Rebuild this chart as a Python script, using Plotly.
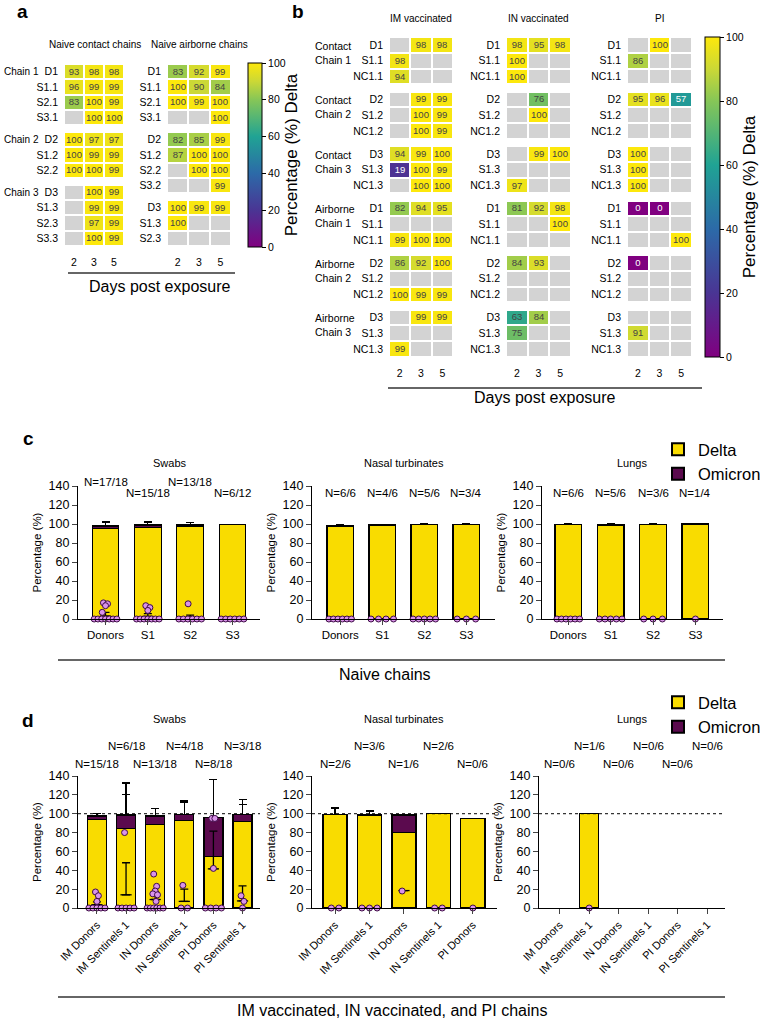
import plotly.graph_objects as go

W, H = 765, 1020
N = None
FONT = "Liberation Sans, Arial, sans-serif"
GRAY = "#d3d3d3"
YELLOW = "#f9dc00"
PURPLE = "#5b0a4e"
DOT = "#d993ea"

days = ["2", "3", "5"]

# ---------------- panel a: naive chains, % Delta ----------------
contact_rows = [["D1", "S1.1", "S2.1", "S3.1"], ["D2", "S1.2", "S2.2"], ["D3", "S1.3", "S2.3", "S3.3"]]
contact_vals = [
    [[93, 98, 98], [96, 99, 99], [83, 100, 99], [N, 100, 100]],
    [[100, 97, 97], [100, 99, 99], [100, 100, 99]],
    [[N, 100, 99], [N, 99, 99], [N, 97, 99], [N, 100, 99]],
]
contact_groups = ["Chain 1", "Chain 2", "Chain 3"]

airborne_rows = [["D1", "S1.1", "S2.1", "S3.1"], ["D2", "S1.2", "S2.2", "S3.2"], ["D3", "S1.3", "S2.3"]]
airborne_vals = [
    [[83, 92, 99], [100, 90, 84], [100, 99, 100], [N, N, 100]],
    [[82, 85, 99], [87, 100, 100], [N, 100, 100], [N, N, 99]],
    [[100, 99, 99], [100, N, N], [N, N, N]],
]

# ---------------- panel b: vaccinated / PI chains ----------------
b_groups = ["Contact<br>Chain 1", "Contact<br>Chain 2", "Contact<br>Chain 3",
            "Airborne<br>Chain 1", "Airborne<br>Chain 2", "Airborne<br>Chain 3"]
b_rows = [["D1", "S1.1", "NC1.1"], ["D2", "S1.2", "NC1.2"], ["D3", "S1.3", "NC1.3"],
          ["D1", "S1.1", "NC1.1"], ["D2", "S1.2", "NC1.2"], ["D3", "S1.3", "NC1.3"]]
E = [N, N, N]
im_vals = [
    [[N, 98, 98], [98, N, N], [94, N, N]],
    [[N, 99, 99], [N, 100, 99], [N, 100, 99]],
    [[94, 99, 100], [19, 100, 99], [N, 100, 100]],
    [[82, 94, 95], E, [99, 100, 100]],
    [[86, 92, 100], E, [100, 99, 99]],
    [[N, 99, 99], E, [99, N, N]],
]
in_vals = [
    [[98, 95, 98], [100, N, N], [100, N, N]],
    [[N, 76, N], [N, 100, N], E],
    [[N, 99, 100], E, [97, N, N]],
    [[81, 92, 98], [N, N, 100], E],
    [[84, 93, N], E, E],
    [[63, 84, N], [75, N, N], E],
]
pi_vals = [
    [[N, 100, N], [86, N, N], E],
    [[95, 96, 57], E, E],
    [[100, N, N], [100, N, N], [100, N, N]],
    [[0, 0, N], E, [N, N, 100]],
    [[0, N, N], E, E],
    [E, [91, N, N], E],
]

# ---------------- panel c: naive chains, bars ----------------
c_cats = ["Donors", "S1", "S2", "S3"]
c_swab_delta = [95, 96.3, 97.6, 99.5]
c_swab_delta_sd = [3, 2.7, 1.5, 0.3]
c_swab_omi = [3, 2.7, 1.5, N]
c_swab_omi_sd = [4, 3, 2.5, N]
c_swab_pts = [[0] * 7 + [17, 16, 14, 7], [0] * 7 + [14, 12, 9], [0] * 6 + [16], [0] * 6]
c_swab_n = ["N=17/18", "N=15/18", "N=13/18", "N=6/12"]

c_nasal_delta = [98, 99, 99.5, 99.5]
c_nasal_delta_sd = [1.2, 0.8, 0.4, 0.4]
c_nasal_pts = [[0] * 6, [0] * 4, [0] * 5, [0] * 3]
c_nasal_n = ["N=6/6", "N=4/6", "N=5/6", "N=3/4"]

c_lung_delta = [99.5, 99, 99.6, 100]
c_lung_delta_sd = [0.5, 0.9, 0.5, 0]
c_lung_pts = [[0] * 6, [0] * 5, [0] * 3, [0]]
c_lung_n = ["N=6/6", "N=5/6", "N=3/6", "N=1/4"]

# ---------------- panel d: vaccinated / PI chains, bars ----------------
d_cats = ["IM Donors", "IM Sentinels 1", "IN Donors", "IN Sentinels 1", "PI Donors", "PI Sentinels 1"]
d_swab_delta = [94, 84.5, 88.5, 92.5, 54.5, 91.5]
d_swab_delta_sd = [6, 36, 9, 21, 40, 18]
d_swab_omi = [3.5, 14, 9, 7, 41.5, 7.5]
d_swab_omi_sd = [3, 34, 8, 13, 40, 16]
d_swab_pts = [[0] * 5 + [17, 13, 7], [0] * 5 + [80], [0] * 6 + [36, 23, 18, 15, 14, 7],
              [0, 0, 24], [0] * 4 + [95, 95, 42], [0, 13, 7]]
d_swab_n = ["N=15/18", "N=6/18", "N=13/18", "N=4/18", "N=8/18", "N=3/18"]

d_nasal_cats = d_cats[:5]
d_nasal_delta = [99, 98.5, 80, 100, 95]
d_nasal_delta_sd = [7, 4.5, 0, 0, 0]
d_nasal_omi = [N, N, 18.5, N, N]
d_nasal_omi_sd = [N, N, 0, N, N]
d_nasal_pts = [[0, 0], [0, 0, 0], [18], [0, 0], [0]]
d_nasal_n = ["N=2/6", "N=3/6", "N=1/6", "N=2/6", "N=0/6"]

d_lung_delta = [N, 100, N, N, N, N]
d_lung_pts = [[], [0], [], [], [], []]
d_lung_n = ["N=0/6", "N=1/6", "N=0/6", "N=0/6", "N=0/6", "N=0/6"]

REF_LINE = 100

colorscale = [[0, "#800080"], [0.2, "#4a3594"], [0.4, "#2c6aa8"], [0.6, "#20a394"],
              [0.8, "#86c657"], [0.9, "#cbd836"], [1.0, "#fde80c"]]

fig = go.Figure()


def ax_names(i):
    return ("x" if i == 1 else f"x{i}"), ("y" if i == 1 else f"y{i}")


def build_grid(rows, vals, gap=0.45):
    z, txt, gray, edges, tv, tt, starts = [], [], [], [0.0], [], [], []
    y = 0.0
    for gi, (names, block) in enumerate(zip(rows, vals)):
        if gi > 0:
            z.append([N, N, N]); txt.append(["", "", ""]); gray.append([N, N, N])
            y += gap
            edges.append(y)
        starts.append(y)
        for name, r in zip(names, block):
            z.append(r)
            txt.append(["" if v is None else str(v) for v in r])
            gray.append([1, 1, 1])
            tv.append(y + 0.5)
            tt.append(name)
            y += 1
            edges.append(y)
    return z, txt, gray, edges, tv, tt, starts


grid_info = {}


def add_grid(i, rows, vals, coloraxis):
    xa, ya = ax_names(i)
    z, txt, gray, edges, tv, tt, starts = build_grid(rows, vals)
    fig.add_trace(go.Heatmap(z=gray, x=days, y=edges, colorscale=[[0, GRAY], [1, GRAY]],
                             showscale=False, xgap=2, ygap=2, hoverinfo="skip", xaxis=xa, yaxis=ya))
    fig.add_trace(go.Heatmap(z=z, x=days, y=edges, text=txt, texttemplate="%{text}",
                             textfont=dict(size=9.5, family=FONT), coloraxis=coloraxis,
                             xgap=2, ygap=2, xaxis=xa, yaxis=ya))
    grid_info[i] = (tv, tt, edges[-1], starts)


add_grid(1, contact_rows, contact_vals, "coloraxis")
add_grid(2, airborne_rows, airborne_vals, "coloraxis")
add_grid(3, b_rows, im_vals, "coloraxis2")
add_grid(4, b_rows, in_vals, "coloraxis2")
add_grid(5, b_rows, pi_vals, "coloraxis2")


def spread(vals, width):
    xs, ys = [], []
    zeros = [v for v in vals if v == 0]
    rest = [v for v in vals if v != 0]
    n = len(zeros)
    step = min(width * 0.85 / (n - 1), 0.22) if n > 1 else 0
    for k in range(n):
        xs.append((k - (n - 1) / 2) * step)
        ys.append(0)
    offs = [-0.05, 0.05, 0.0, -0.08, 0.08, 0.03]
    for k, v in enumerate(rest):
        xs.append(offs[k % len(offs)] * width / 0.65)
        ys.append(v)
    return xs, ys


def add_bars(i, cats, delta, delta_sd, omi, omi_sd, pts, width, legend=None):
    xa, ya = ax_names(i)
    x = list(range(len(cats)))
    show = legend is not None
    fig.add_trace(go.Bar(x=x, y=delta, width=width, name="Delta",
                         marker=dict(color=YELLOW, line=dict(color="black", width=1.3)),
                         error_y=dict(type="data", array=delta_sd, arrayminus=[0] * len(x), symmetric=False,
                                      color="black", thickness=1.3, width=4),
                         showlegend=show, legend=legend or "legend", xaxis=xa, yaxis=ya))
    fig.add_trace(go.Bar(x=x, y=omi if omi else [N] * len(x), width=width, name="Omicron",
                         marker=dict(color=PURPLE, line=dict(color="black", width=1.3)),
                         error_y=dict(type="data", array=omi_sd if omi_sd else [0] * len(x),
                                      arrayminus=[0] * len(x), symmetric=False,
                                      color="black", thickness=1.3, width=4),
                         showlegend=show, legend=legend or "legend", xaxis=xa, yaxis=ya))
    if omi:
        fig.add_trace(go.Scatter(x=x, y=omi, mode="markers",
                                 marker=dict(symbol="line-ew-open", size=8, color="black",
                                             line=dict(color="black", width=1.3)),
                                 error_y=dict(type="data", array=omi_sd, arrayminus=[0] * len(x), symmetric=False,
                                              color="black", thickness=1.3, width=4),
                                 showlegend=False, hoverinfo="skip", xaxis=xa, yaxis=ya))
    px, py = [], []
    for k, vals in enumerate(pts):
        xs, ys = spread(vals, width)
        px += [k + v for v in xs]
        py += ys
    fig.add_trace(go.Scatter(x=px, y=py, mode="markers", cliponaxis=False,
                             marker=dict(size=6, color=DOT, line=dict(color="#3d0b45", width=1)),
                             showlegend=False, xaxis=xa, yaxis=ya))


add_bars(6, c_cats, c_swab_delta, c_swab_delta_sd, c_swab_omi, c_swab_omi_sd, c_swab_pts, 0.63, legend="legend")
add_bars(7, c_cats, c_nasal_delta, c_nasal_delta_sd, None, None, c_nasal_pts, 0.63)
add_bars(8, c_cats, c_lung_delta, c_lung_delta_sd, None, None, c_lung_pts, 0.63)
add_bars(9, d_cats, d_swab_delta, d_swab_delta_sd, d_swab_omi, d_swab_omi_sd, d_swab_pts, 0.65, legend="legend2")
add_bars(10, d_nasal_cats, d_nasal_delta, d_nasal_delta_sd, d_nasal_omi, d_nasal_omi_sd, d_nasal_pts, 0.7)
add_bars(11, d_cats, d_lung_delta, [0] * 6, None, None, d_lung_pts, 0.65)


def xdom(p0, p1):
    return [p0 / W, p1 / W]


def ydom(top, bottom):
    return [1 - bottom / H, 1 - top / H]


layout = dict(width=W, height=H, margin=dict(l=0, r=0, t=0, b=0, autoexpand=False), paper_bgcolor="white",
              plot_bgcolor="white", barmode="stack", font=dict(family=FONT, color="black", size=11))

heat_boxes = {1: (64, 124, 64, 246), 2: (167, 231, 64, 246),
              3: (389, 453, 37, 357), 4: (506, 571, 37, 357), 5: (627, 692, 37, 357)}
for i, (x0, x1, y0, y1) in heat_boxes.items():
    tv, tt, ymax, starts = grid_info[i]
    k = "" if i == 1 else str(i)
    layout["xaxis" + k] = dict(domain=xdom(x0, x1), anchor="y" + k, type="category", showgrid=False,
                               zeroline=False, showline=False, ticks="outside", ticklen=6, automargin=False,
                               tickcolor="rgba(0,0,0,0)", tickfont=dict(size=10.5))
    layout["yaxis" + k] = dict(domain=ydom(y0, y1), anchor="x" + k, range=[ymax, 0], showgrid=False,
                               zeroline=False, showline=False, tickvals=tv, ticktext=tt, ticks="",
                               automargin=False, ticklabelstandoff=5, tickfont=dict(size=10.5))

bar_boxes = {6: (78, 260, 486, 619, [-0.65, 3.65]), 7: (312, 495, 486, 619, [-0.67, 3.68]),
             8: (542, 723, 486, 619, [-0.62, 3.65]),
             9: (78, 260, 776, 908, [-0.65, 5.6]), 10: (312, 497, 776, 908, [-0.67, 4.7]),
             11: (539, 725, 776, 908, [-0.7, 5.6])}
bar_cats = {6: c_cats, 7: c_cats, 8: c_cats, 9: d_cats, 10: d_nasal_cats, 11: d_cats}
for i, (x0, x1, y0, y1, xr) in bar_boxes.items():
    k = str(i)
    cats = bar_cats[i]
    rot = i >= 9
    layout["xaxis" + k] = dict(domain=xdom(x0, x1), anchor="y" + k, range=xr, tickvals=list(range(len(cats))),
                               ticktext=cats, showline=True, linecolor="black", linewidth=1.3,
                               ticks="outside", ticklen=5, tickwidth=1.3, showgrid=False, zeroline=False,
                               automargin=False, tickangle=-45 if rot else 0,
                               tickfont=dict(size=11 if rot else 11.5))
    layout["yaxis" + k] = dict(domain=ydom(y0, y1), anchor="x" + k, range=[0, 140], dtick=20,
                               showline=True, linecolor="black", linewidth=1.3, ticks="outside",
                               ticklen=5, tickwidth=1.3, showgrid=False, zeroline=False, automargin=False,
                               tickfont=dict(size=12.5),
                               title=dict(text="Percentage (%)", font=dict(size=11.5), standoff=4))

cb_common = dict(outlinewidth=1, outlinecolor="black", ticks="outside", ticklen=4, tickcolor="black",
                 tickfont=dict(size=10.5), tickvals=[0, 20, 40, 60, 80, 100], xpad=0, ypad=0,
                 xanchor="left", yanchor="middle", lenmode="fraction")
layout["coloraxis"] = dict(colorscale=colorscale, cmin=0, cmax=100,
                           colorbar=dict(x=248 / W, y=1 - 155 / H, len=184 / H, thickness=14,
                                         title=dict(text="Percentage (%) Delta", side="right",
                                                    font=dict(size=17)), **cb_common))
layout["coloraxis2"] = dict(colorscale=colorscale, cmin=0, cmax=100,
                            colorbar=dict(x=705 / W, y=1 - 197 / H, len=320 / H, thickness=15,
                                          title=dict(text="Percentage (%) Delta", side="right",
                                                     font=dict(size=17)), **cb_common))

leg_common = dict(xanchor="left", yanchor="top", font=dict(size=16.5), tracegroupgap=2,
                  traceorder="normal", itemsizing="constant", bgcolor="rgba(0,0,0,0)")
layout["legend"] = dict(x=658 / W, y=1 - 432 / H, **leg_common)
layout["legend2"] = dict(x=658 / W, y=1 - 685 / H, **leg_common)

ann = []


def text(x, y, s, size=10.5, **kw):
    d = dict(x=x / W, y=1 - y / H, xref="paper", yref="paper", text=s, showarrow=False,
             font=dict(size=size), xanchor="center", yanchor="middle")
    d.update(kw)
    ann.append(d)


for s, x, y in [("a", 22, 12), ("b", 298, 12), ("c", 28, 438), ("d", 28, 720)]:
    text(x, y, "<b>%s</b>" % s, size=19)

text(95, 45, "Naive contact chains", 10)
text(199, 45, "Naive airborne chains", 10)
text(421, 18, "IM vaccinated", 10)
text(538, 18, "IN vaccinated", 10)
text(659, 18, "PI", 10)
for s, x in [("Swabs", 170), ("Nasal turbinates", 404), ("Lungs", 632)]:
    text(x, 463, s, 11)
    text(x, 719, s, 11)

text(160, 286, "Days post exposure", 16)
text(545, 398, "Days post exposure", 16)
text(385, 674, "Naive chains", 16)
text(392, 1010, "IM vaccinated, IN vaccinated, and PI chains", 16)

# group labels for heatmaps
tv, tt, ymax, starts = grid_info[1]
for g, st in zip(contact_groups, starts):
    ann.append(dict(x=2 / W, xref="paper", y=st + 0.5, yref="y", text=g, showarrow=False,
                    xanchor="left", yanchor="middle", font=dict(size=10)))
tv, tt, ymax, starts = grid_info[3]
for g, st in zip(b_groups, starts):
    ann.append(dict(x=313 / W, xref="paper", y=st + 1.0, yref="y3", text=g, showarrow=False,
                    xanchor="left", yanchor="middle", align="left", font=dict(size=10.5)))

# N labels on bar panels (positions in axis-domain fractions)
n_sets = [(6, c_swab_n, [1, 0, 1, 0], 1.03, 0.947), (7, c_nasal_n, [0] * 4, 1.03, 0.947),
          (8, c_lung_n, [0] * 4, 1.03, 0.947),
          (9, d_swab_n, [0, 1, 0, 1, 0, 1], 1.227, 1.09), (10, d_nasal_n, [0, 1, 0, 1, 0], 1.227, 1.09),
          (11, d_lung_n, [0, 1, 0, 1, 0, 1], 1.227, 1.09)]
for i, labels, lev, yhi, ylo in n_sets:
    for k, s in enumerate(labels):
        ann.append(dict(x=k, xref="x%d" % i, y=yhi if lev[k] else ylo, yref="y%d domain" % i, text=s,
                        showarrow=False, font=dict(size=11.5), xanchor="center", yanchor="middle"))

layout["annotations"] = ann

shapes = []
for x0, x1, y in [(68, 235, 273), (388, 702, 388), (58, 725, 660), (58, 725, 997)]:
    shapes.append(dict(type="line", xref="paper", yref="paper", x0=x0 / W, x1=x1 / W,
                       y0=1 - y / H, y1=1 - y / H, line=dict(color="#333", width=1.5)))
for i in (9, 10, 11):
    shapes.append(dict(type="line", xref="x%d domain" % i, yref="y%d" % i, x0=0, x1=1,
                       y0=REF_LINE, y1=REF_LINE, line=dict(color="black", width=1, dash="dot")))
layout["shapes"] = shapes

fig.update_layout(**layout)
fig.write_html("out.html", config={"displayModeBar": False},
               post_script="document.body.style.margin='0';document.body.style.overflow='hidden';")
